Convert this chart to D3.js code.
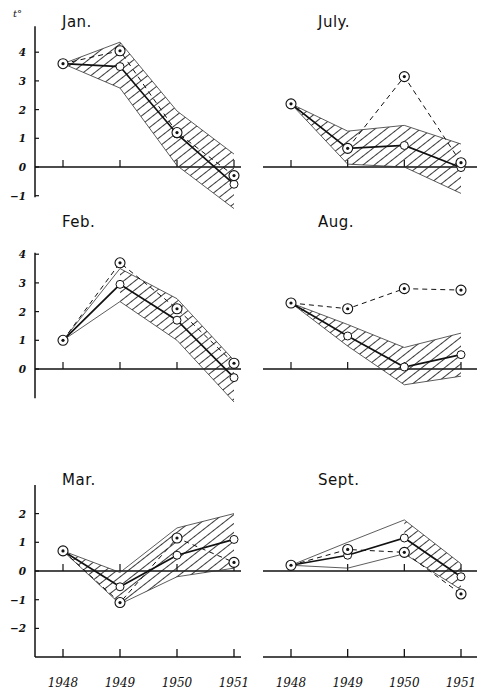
<!DOCTYPE html>
<html>
<head>
<meta charset="utf-8">
<script src="https://cdn.jsdelivr.net/npm/d3@7"></script>
<style>
  body { margin: 0; background: #fff; }
  text { fill: #111; }
</style>
</head>
<body>
<svg id="chart" width="477" height="694"></svg>
<script>
const YEARS = [1948, 1949, 1950, 1951]
const MONTHS = ['Jan.', 'July.', 'Feb.', 'Aug.', 'Mar.', 'Sept.']

// circled dots, joined by a dashed line
const dotted = [
  [3.6, 4.05, 1.2, -0.3],
  [2.2, 0.65, 3.15, 0.15],
  [1.0, 3.7, 2.1, 0.2],
  [2.3, 2.1, 2.8, 2.75],
  [0.7, -1.1, 1.15, 0.3],
  [0.2, 0.75, 0.65, -0.8]
]
// open circles, joined by a heavy line
const open = [
  [3.6, 3.5, 1.15, -0.6],
  [2.2, 0.65, 0.75, -0.02],
  [1.0, 2.95, 1.7, -0.3],
  [2.3, 1.15, 0.07, 0.5],
  [0.7, -0.55, 0.55, 1.1],
  [0.2, 0.55, 1.15, -0.2]
]
// hatched band
const bandHigh = [
  [3.6, 4.35, 1.95, 0.45],
  [2.2, 1.25, 1.45, 0.8],
  [1.0, 3.5, 2.45, 0.3],
  [2.3, 1.55, 0.75, 1.25],
  [0.7, -0.05, 1.5, 2.0],
  [0.2, 1.0, 1.78, 0.25]
]
const bandLow = [
  [3.6, 2.75, 0.05, -1.45],
  [2.2, 0.1, 0.0, -0.92],
  [1.0, 2.35, 1.0, -1.15],
  [2.3, 0.8, -0.55, -0.25],
  [0.7, -1.15, -0.2, 0.1],
  [0.2, 0.1, 0.6, -0.65]
]
const hatchFrom = [0, 0, 1, 0, 0, 2]
const yTicks = [[-1, 0, 1, 2, 3, 4], [], [0, 1, 2, 3, 4], [], [-2, -1, 0, 1, 2], []]
const axisSpan = [[-1.05, 4.9], null, [-1.02, 4.05], null, [-3, 3], null]

const svg = d3.select('#chart')
const unit = 28.7
const zeroY = [167, 369, 571]
const titleY = [27, 227, 485]
const colX = [
  d3.scaleLinear().domain([1948, 1951]).range([63, 234]),
  d3.scaleLinear().domain([1948, 1951]).range([291, 461])
]
const lineSpan = [[35, 241], [263, 477]]

svg.append('defs').append('pattern')
    .attr('id', 'hatch')
    .attr('patternUnits', 'userSpaceOnUse')
    .attr('width', 7).attr('height', 7)
    .attr('patternTransform', 'rotate(-38)')
  .append('line')
    .attr('x1', 0).attr('x2', 7)
    .attr('y1', 3.5).attr('y2', 3.5)
    .attr('stroke', '#222')
    .attr('stroke-width', 0.9)

svg.append('text')
    .attr('x', 13).attr('y', 17)
    .style('font', 'italic 10px "DejaVu Serif"')
    .text('t°')

MONTHS.forEach((name, m) => {
  const row = Math.floor(m / 2), col = m % 2
  const x = colX[col]
  const y = d3.scaleLinear().domain([0, 1]).range([zeroY[row], zeroY[row] - unit])
  const g = svg.append('g')
  const idx = d3.range(YEARS.length)

  // title
  g.append('text')
      .attr('x', col ? 318 : 62)
      .attr('y', titleY[row])
      .style('font', '15px "DejaVu Sans"')
      .style('letter-spacing', '0.5px')
      .text(name)

  // zero line + year ticks
  g.append('line')
      .attr('x1', lineSpan[col][0]).attr('x2', lineSpan[col][1])
      .attr('y1', y(0)).attr('y2', y(0))
      .attr('stroke', '#111').attr('stroke-width', 1.4)
  g.selectAll('.ytick0').data(YEARS).join('line')
      .attr('x1', d => x(d)).attr('x2', d => x(d))
      .attr('y1', y(0)).attr('y2', y(0) - 7)
      .attr('stroke', '#111').attr('stroke-width', 1.2)

  // left axis
  if (axisSpan[m]) {
    g.append('line')
        .attr('x1', 35).attr('x2', 35)
        .attr('y1', y(axisSpan[m][1])).attr('y2', y(axisSpan[m][0]))
        .attr('stroke', '#111').attr('stroke-width', 1.5)
    g.selectAll('.tk').data(yTicks[m]).join('line')
        .attr('x1', 35).attr('x2', 39)
        .attr('y1', d => y(d)).attr('y2', d => y(d))
        .attr('stroke', '#111').attr('stroke-width', 1.2)
    g.selectAll('.tl').data(yTicks[m]).join('text')
        .attr('x', 26).attr('y', d => y(d) + 4)
        .attr('text-anchor', 'end')
        .style('font', 'italic bold 10.5px "DejaVu Serif"')
        .text(d => d < 0 ? '−' + Math.abs(d) : d)
  }

  // hatched band
  const area = d3.area()
      .x(i => x(YEARS[i]))
      .y0(i => y(bandLow[m][i]))
      .y1(i => y(bandHigh[m][i]))
  g.append('path')
      .attr('d', area(idx.slice(hatchFrom[m])))
      .attr('fill', 'url(#hatch)')
  const edge = (arr) => d3.line().x(i => x(YEARS[i])).y(i => y(arr[i]))(idx)
  ;[bandHigh[m], bandLow[m]].forEach(arr => {
    g.append('path')
        .attr('d', edge(arr))
        .attr('fill', 'none')
        .attr('stroke', '#333')
        .attr('stroke-width', 0.8)
  })

  // series lines
  g.append('path')
      .attr('d', edge(dotted[m]))
      .attr('fill', 'none')
      .attr('stroke', '#111')
      .attr('stroke-width', 1)
      .attr('stroke-dasharray', '5,4')
  g.append('path')
      .attr('d', edge(open[m]))
      .attr('fill', 'none')
      .attr('stroke', '#111')
      .attr('stroke-width', 1.7)

  // markers
  g.selectAll('.oc').data(idx).join('circle')
      .attr('cx', i => x(YEARS[i])).attr('cy', i => y(open[m][i]))
      .attr('r', 4)
      .attr('fill', '#fff').attr('stroke', '#111').attr('stroke-width', 1)
  const dots = g.selectAll('.dc').data(idx).join('g')
      .attr('transform', i => `translate(${x(YEARS[i])},${y(dotted[m][i])})`)
  dots.append('circle').attr('r', 5)
      .attr('fill', '#fff').attr('stroke', '#111').attr('stroke-width', 1.1)
  dots.append('circle').attr('r', 1.6).attr('fill', '#111')

  // bottom axis with years
  if (row === 2) {
    const by = y(-3)
    g.append('line')
        .attr('x1', lineSpan[col][0]).attr('x2', lineSpan[col][1])
        .attr('y1', by).attr('y2', by)
        .attr('stroke', '#111').attr('stroke-width', 1.5)
    g.selectAll('.bt').data(YEARS).join('line')
        .attr('x1', d => x(d)).attr('x2', d => x(d))
        .attr('y1', by).attr('y2', by - 8)
        .attr('stroke', '#111').attr('stroke-width', 1.3)
    g.selectAll('.bl').data(YEARS).join('text')
        .attr('x', d => x(d)).attr('y', by + 30)
        .attr('text-anchor', 'middle')
        .style('font', 'italic 12px "DejaVu Serif"')
        .text(d => d)
  }
})
</script>
</body>
</html>
